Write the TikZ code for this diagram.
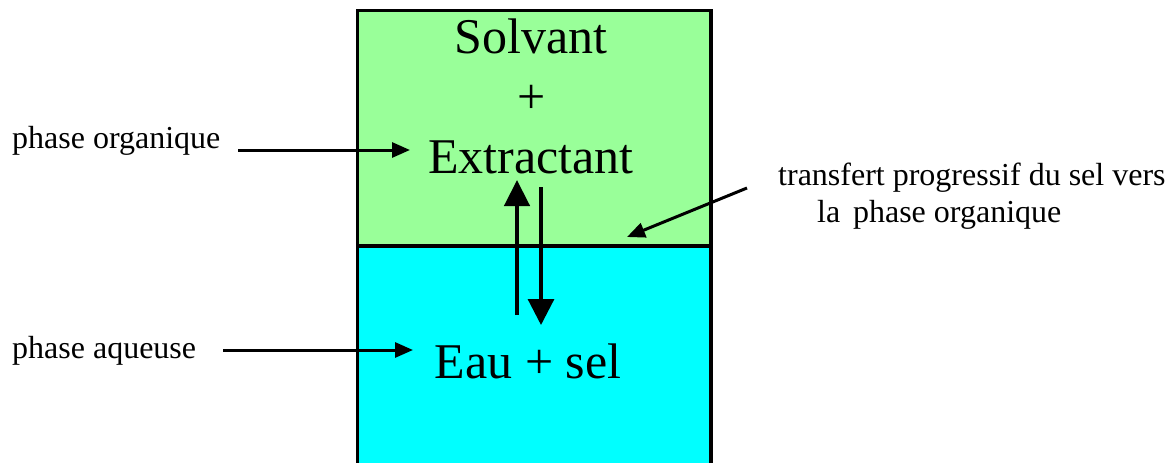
\documentclass[tikz,border=0pt]{standalone}
\usepackage{fontspec}
\setmainfont{Liberation Serif}
\usetikzlibrary{arrows.meta}
\definecolor{orggreen}{RGB}{153,255,153}
\definecolor{aqcyan}{RGB}{0,255,255}
\tikzset{
  phasebox/.style={draw=black, line width=3.5pt},
  bigtxt/.style={font=\fontsize{50}{60}\selectfont, inner sep=0pt, anchor=base},
  lbl/.style={font=\fontsize{32}{38}\selectfont, inner sep=0pt, anchor=base west},
  lblarrow/.style={line width=3pt, -{Triangle[length=18pt,width=15pt]}},
  uparrow/.style={line width=4.5pt, -{Triangle[length=26pt,width=25pt]}},
  downarrow/.style={line width=3.2pt, -{Triangle[length=26pt,width=26pt]}}
}
\begin{document}
\begin{tikzpicture}[x=1pt,y=-1pt]
\useasboundingbox (0,0) rectangle (1173,463);
\fill[white] (0,0) rectangle (1173,463);
% phases
\draw[phasebox, fill=orggreen] (357.5,10.5) rectangle (711,246);
\draw[phasebox, fill=aqcyan] (357.5,246) rectangle (711,475);
% texts in the box
\node[bigtxt] (solv) at (531,53) {Solvant};
\node[bigtxt] (plus) at (532,113) {+};
\node[bigtxt] (ext) at (531,173) {Extractant};
\node[bigtxt] (eau) at (528,378) {Eau + sel};
% labels
\node[lbl] (lorg) at (12,148) {phase organique};
\node[lbl] (laq) at (12,358) {phase aqueuse};
\node[lbl] (ltr1) at (778,185) {transfert progressif du sel vers};
\node[lbl] (ltr2) at (817,222) {la\hspace{0.4em}phase organique};
% connector end points
\coordinate (orgS) at (238,150);
\coordinate (orgE) at (410,150);
\coordinate (aqS) at (223,350);
\coordinate (aqE) at (413,350);
\coordinate (trS) at (747,188);
\coordinate (trE) at (627,237);
\coordinate (upS) at (517,315);
\coordinate (upE) at (517,180);
\coordinate (dnS) at (541,187);
\coordinate (dnE) at (541,325);
% connectors
\draw[lblarrow] (orgS) -- (orgE);
\draw[lblarrow] (aqS) -- (aqE);
\draw[lblarrow] (trS) -- (trE);
\draw[uparrow] (upS) -- (upE);
\draw[downarrow] (dnS) -- (dnE);
\end{tikzpicture}
\end{document}
